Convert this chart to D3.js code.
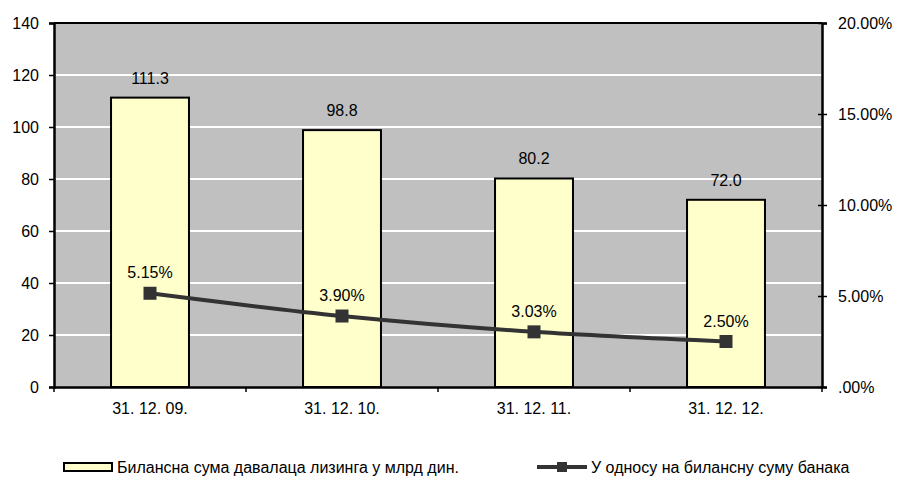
<!DOCTYPE html>
<html lang="sr">
	<head>
		<meta charset="utf-8">
		<title>Лизинг</title>
		<script type="text/javascript" src="https://d3js.org/d3.v7.min.js"></script>
		<style type="text/css">
			body { margin: 0; background: #fff; }
			text { font-family: "Liberation Sans", Arial, sans-serif; font-size: 16px; fill: #000; }
		</style>
	</head>
	<body>
		<script type="text/javascript">

			// Data
			var categories = ["31. 12. 09.", "31. 12. 10.", "31. 12. 11.", "31. 12. 12."];
			var balanceSum = [111.3, 98.8, 80.2, 72.0];
			var shareOfBanks = [5.15, 3.90, 3.03, 2.50];
			var leftTicks = [0, 20, 40, 60, 80, 100, 120, 140];
			var rightTicks = [0, 5, 10, 15, 20];
			var seriesNames = ["Билансна сума давалаца лизинга у млрд дин.", "У односу на билансну суму банака"];

			var w = 897, h = 477;
			var plotL = 54, plotR = 822, plotT = 23, plotB = 387;
			var numSize = 16.6;

			var svg = d3.select("body").append("svg")
				.attr("width", w)
				.attr("height", h);

			var xScale = d3.scaleBand()
				.domain(categories)
				.range([plotL, plotR])
				.padding(0);

			var yScale = d3.scaleLinear().domain([0, 140]).range([plotB, plotT]);
			var y2Scale = d3.scaleLinear().domain([0, 20]).range([plotB, plotT]);

			// plot background
			svg.append("rect")
				.attr("x", plotL).attr("y", plotT)
				.attr("width", plotR - plotL).attr("height", plotB - plotT)
				.attr("fill", "#c0c0c0");

			// gridlines
			svg.selectAll("line.grid")
				.data(leftTicks.slice(1, -1))
				.enter()
				.append("line")
				.attr("class", "grid")
				.attr("x1", plotL).attr("x2", plotR)
				.attr("y1", function(d) { return yScale(d); })
				.attr("y2", function(d) { return yScale(d); })
				.attr("stroke", "#fff")
				.attr("stroke-width", 2);

			// top border
			svg.append("line")
				.attr("x1", plotL).attr("x2", plotR)
				.attr("y1", plotT).attr("y2", plotT)
				.attr("stroke", "#000").attr("stroke-width", 2);

			// bars
			var barW = xScale.bandwidth() * 0.406;
			svg.selectAll("rect.bar")
				.data(balanceSum)
				.enter()
				.append("rect")
				.attr("class", "bar")
				.attr("x", function(d, i) { return xScale(categories[i]) + (xScale.bandwidth() - barW) / 2; })
				.attr("y", function(d) { return yScale(d); })
				.attr("width", barW)
				.attr("height", function(d) { return yScale(0) - yScale(d); })
				.attr("fill", "#ffffcc")
				.attr("stroke", "#000")
				.attr("stroke-width", 2);

			svg.selectAll("text.barlabel")
				.data(balanceSum)
				.enter()
				.append("text")
				.attr("class", "barlabel")
				.attr("x", function(d, i) { return xScale(categories[i]) + xScale.bandwidth() / 2; })
				.attr("y", function(d) { return yScale(d) - 14; })
				.attr("text-anchor", "middle")
				.attr("font-size", numSize)
				.text(function(d) { return d.toFixed(1); });

			// left axis
			var yAxis = d3.axisLeft(yScale).tickValues(leftTicks).tickSize(5).tickPadding(10);
			var gy = svg.append("g").attr("transform", "translate(" + plotL + ",0)").call(yAxis);

			// right axis
			var y2Axis = d3.axisRight(y2Scale).tickValues(rightTicks).tickSize(5).tickPadding(11)
				.tickFormat(function(d) { return d === 0 ? ".00%" : d.toFixed(2) + "%"; });
			var gy2 = svg.append("g").attr("transform", "translate(" + plotR + ",0)").call(y2Axis);
			gy2.selectAll(".tick line").attr("x1", -4);

			// bottom axis
			var xAxis = d3.axisBottom(xScale).tickSize(0).tickPadding(16);
			var gx = svg.append("g").attr("transform", "translate(0," + plotB + ")").call(xAxis);
			gx.selectAll("line.sep")
				.data(d3.range(categories.length + 1))
				.enter()
				.append("line")
				.attr("class", "sep")
				.attr("x1", function(i) { return plotL + i * xScale.step(); })
				.attr("x2", function(i) { return plotL + i * xScale.step(); })
				.attr("y1", 0).attr("y2", 5)
				.attr("stroke", "#000").attr("stroke-width", 1.5);

			[gy, gy2, gx].forEach(function(g) {
				g.selectAll(".domain").attr("stroke", "#000").attr("stroke-width", 2.5);
				g.selectAll(".tick line").attr("stroke", "#000").attr("stroke-width", 1.5);
				g.selectAll("text").attr("font-size", numSize).attr("font-family", "Liberation Sans, Arial, sans-serif").attr("fill", "#000");
			});

			// line series
			var line = d3.line()
				.x(function(d, i) { return xScale(categories[i]) + xScale.bandwidth() / 2; })
				.y(function(d) { return y2Scale(d); })
				.curve(d3.curveCatmullRom.alpha(0));

			svg.append("path")
				.datum(shareOfBanks)
				.attr("d", line)
				.attr("fill", "none")
				.attr("stroke", "#333333")
				.attr("stroke-width", 4);

			var mk = 13;
			svg.selectAll("rect.marker")
				.data(shareOfBanks)
				.enter()
				.append("rect")
				.attr("class", "marker")
				.attr("x", function(d, i) { return xScale(categories[i]) + xScale.bandwidth() / 2 - mk / 2; })
				.attr("y", function(d) { return y2Scale(d) - mk / 2; })
				.attr("width", mk).attr("height", mk)
				.attr("fill", "#333333");

			svg.selectAll("text.pctlabel")
				.data(shareOfBanks)
				.enter()
				.append("text")
				.attr("class", "pctlabel")
				.attr("x", function(d, i) { return xScale(categories[i]) + xScale.bandwidth() / 2; })
				.attr("y", function(d) { return y2Scale(d) - 15; })
				.attr("text-anchor", "middle")
				.attr("font-size", numSize)
				.text(function(d) { return d.toFixed(2) + "%"; });

			// legend
			var lg = svg.append("g");
			lg.append("rect")
				.attr("x", 64).attr("y", 463).attr("width", 48).attr("height", 8)
				.attr("fill", "#ffffcc").attr("stroke", "#000").attr("stroke-width", 2);
			lg.append("text").attr("x", 117).attr("y", 473).text(seriesNames[0]);

			lg.append("line")
				.attr("x1", 537).attr("x2", 587).attr("y1", 467).attr("y2", 467)
				.attr("stroke", "#333333").attr("stroke-width", 4);
			lg.append("rect")
				.attr("x", 557).attr("y", 462).attr("width", 10).attr("height", 10)
				.attr("fill", "#333333");
			lg.append("text").attr("x", 591).attr("y", 473).text(seriesNames[1]);

		</script>
	</body>
</html>
